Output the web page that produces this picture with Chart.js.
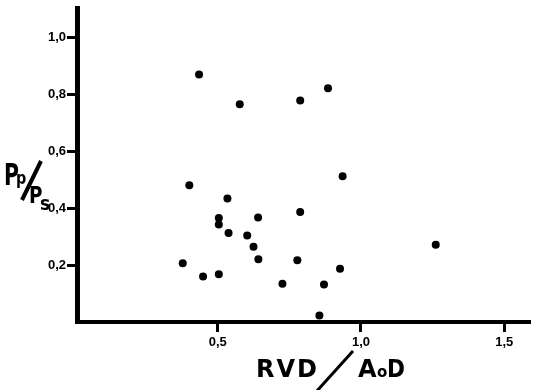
<!DOCTYPE html>
<html>
<head>
<meta charset="utf-8">
<script src="https://cdn.jsdelivr.net/npm/chart.js@4/dist/chart.umd.min.js"></script>
<style>
  html, body { margin: 0; padding: 0; background: #fff; }
  #wrap { width: 534px; height: 390px; position: relative; }
</style>
</head>
<body>
<div id="wrap"><canvas id="chart"></canvas></div>
<script>
// ── Data ──────────────────────────────────────────────────
const rvdAod = [0.435, 0.577, 0.788, 0.885, 0.401, 0.936, 0.534, 0.504,
  0.504, 0.641, 0.788, 0.538, 0.603, 0.625, 1.261, 0.378, 0.642, 0.778,
  0.927, 0.449, 0.504, 0.726, 0.871, 0.855];
const ppPs = [0.869, 0.765, 0.778, 0.821, 0.480, 0.512, 0.434, 0.365,
  0.342, 0.367, 0.386, 0.313, 0.304, 0.264, 0.271, 0.206, 0.220, 0.217,
  0.187, 0.160, 0.168, 0.134, 0.132, 0.023];
const xTickValues = [0.5, 1.0, 1.5];
const yTickValues = [0.2, 0.4, 0.6, 0.8, 1.0];

// ── Style helpers ─────────────────────────────────────────
const INK = "#000";
const TITLE_FACE = '"DejaVu Sans", sans-serif';
const tickFont = { family: '"Liberation Sans", Arial, sans-serif', size: 13, weight: "bold" };
const commaLabel = (v) => v.toFixed(1).replace(".", ",");

function fixedTicks(values) {
  return (scale) => { scale.ticks = values.map((value) => ({ value })); };
}

// axis titles: RVD/AoD and Pp/Ps, drawn as text with a stroked slash
const axisTitles = {
  id: "axisTitles",
  afterDraw(chart) {
    const ctx = chart.ctx;
    const text = (txt, x, y, size, sx = 1) => {
      ctx.save();
      ctx.translate(x, y);
      ctx.scale(sx, 1);
      ctx.font = `bold ${size}px ${TITLE_FACE}`;
      ctx.fillText(txt, 0, 0);
      ctx.restore();
    };
    const slash = (x1, y1, x2, y2, w) => {
      ctx.lineWidth = w;
      ctx.beginPath();
      ctx.moveTo(x1, y1);
      ctx.lineTo(x2, y2);
      ctx.stroke();
    };
    ctx.save();
    ctx.fillStyle = INK;
    ctx.strokeStyle = INK;
    ctx.textBaseline = "alphabetic";
    ctx.textAlign = "left";

    // x title
    ctx.letterSpacing = "2px";
    text("RVD", 256, 377, 24);
    ctx.letterSpacing = "0px";
    text("A", 358, 377, 24);
    text("o", 377, 377, 15);
    text("D", 387, 377, 24, 0.9);
    slash(353, 351, 316, 392, 3);

    // y title
    text("P", 4, 185, 31, 0.66);
    text("p", 16, 184, 18, 0.8);
    text("P", 29, 203, 23, 0.8);
    text("s", 40, 210, 19, 0.9);
    slash(41, 161, 22, 200, 4);
    ctx.restore();
  },
};

new Chart(document.getElementById("chart"), {
  type: "scatter",
  data: {
    datasets: [{
      data: rvdAod.map((x, i) => ({ x, y: ppPs[i] })),
      backgroundColor: INK,
      borderWidth: 0,
      pointRadius: 4,
      pointHoverRadius: 4,
    }],
  },
  options: {
    responsive: true,
    maintainAspectRatio: false,
    animation: false,
    layout: { padding: { top: 8, right: 0, left: 0, bottom: 0 } },
    plugins: { legend: { display: false }, tooltip: { enabled: false } },
    scales: {
      x: {
        type: "linear",
        min: 0.009,
        max: 1.59,
        afterBuildTicks: fixedTicks(xTickValues),
        afterFit: (s) => { s.height = 68; },
        border: { display: true, width: 4, color: INK },
        grid: { display: true, drawOnChartArea: false, tickLength: 10, tickWidth: 3, tickColor: INK, color: INK },
        ticks: { color: INK, font: tickFont, padding: 3, callback: commaLabel, maxRotation: 0 },
      },
      y: {
        type: "linear",
        min: 0,
        max: 1.1,
        afterBuildTicks: fixedTicks(yTickValues),
        afterFit: (s) => { s.width = 77; },
        border: { display: true, width: 5, color: INK },
        grid: { display: true, drawOnChartArea: false, tickLength: 10, tickWidth: 3, tickColor: INK, color: INK },
        ticks: { color: INK, font: tickFont, padding: 1, callback: commaLabel },
      },
    },
  },
  plugins: [axisTitles],
});
</script>
</body>
</html>
